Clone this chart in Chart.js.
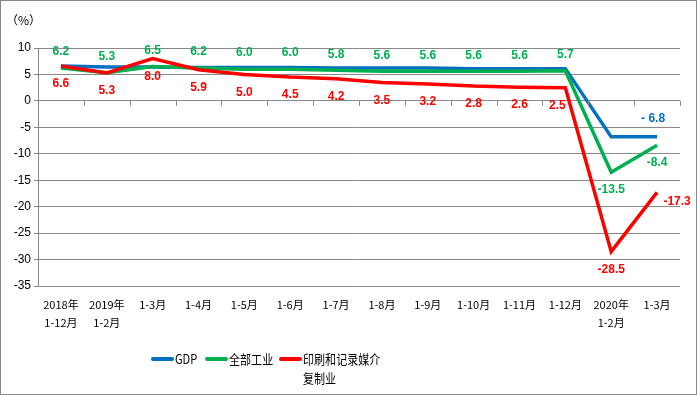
<!DOCTYPE html>
<html><head><meta charset="utf-8">
<script src="https://cdn.jsdelivr.net/npm/chart.js@4.4.1/dist/chart.umd.min.js"></script>
<style>html,body{margin:0;padding:0;background:#fff}canvas{display:block}</style>
</head><body>
<canvas id="c" width="697" height="395"></canvas>
<script>
const categories = [['2018年','1-12月'],['2019年','1-2月'],'1-3月','1-4月','1-5月','1-6月','1-7月','1-8月','1-9月','1-10月','1-11月','1-12月',['2020年','1-2月'],'1-3月'];
const seriesNames = ['GDP','全部工业','印刷和记录媒介复制业'];
const legendLines = [['GDP'],['全部工业'],['印刷和记录媒介','复制业']];
const gdp = [6.6,6.4,6.4,6.3,6.3,6.3,6.2,6.2,6.2,6.1,6.1,6.1,-6.8,-6.8];
const industry = [6.2,5.3,6.5,6.2,6.0,6.0,5.8,5.6,5.6,5.6,5.6,5.7,-13.5,-8.4];
const printing = [6.6,5.3,8.0,5.9,5.0,4.5,4.2,3.5,3.2,2.8,2.6,2.5,-28.5,-17.3];
const yTicks = {min:-35,max:10,step:5};
const unitLabel = '（%）';

const colors = ['#0070C0','#00B050','#FF0000'];
const labelCfg = [
  {13:{dx:-4,dy:-18,text:'- 6.8'}},
  Object.assign({}, ...industry.map((v,i)=>({[i]:{dx:0,dy:i>=12?17:-16}}))),
  Object.assign({}, ...printing.map((v,i)=>({[i]:{dx:i===11?-8:(i===13?20:0),dy:i===13?9:18}})))
];

const labelPlugin = {
  id:'labels',
  afterDatasetsDraw(chart){
    const ctx=chart.ctx;
    ctx.save();
    ctx.font='bold 12px "Liberation Sans", Arial, sans-serif';
    ctx.textAlign='center';ctx.textBaseline='middle';
    chart.data.datasets.forEach((ds,di)=>{
      const meta=chart.getDatasetMeta(di);
      const cfg=labelCfg[di];
      meta.data.forEach((pt,i)=>{
        const c=cfg[i]; if(!c) return;
        const t=c.text||ds.data[i].toFixed(1);
        ctx.fillStyle=colors[di];
        ctx.fillText(t,pt.x+c.dx,pt.y+c.dy);
      });
    });
    ctx.restore();
  },
  afterDraw(chart){
    const ctx=chart.ctx, xs=chart.scales.x, ys=chart.scales.y;
    ctx.save();
    const y0=ys.getPixelForValue(0);
    const n=categories.length, w=(xs.right-xs.left)/n;
    ctx.strokeStyle='#898989';ctx.lineWidth=1;
    ctx.beginPath();
    for(let k=1;k<=n;k++){const x=Math.round(xs.left+k*w)+0.5;ctx.moveTo(x,y0);ctx.lineTo(x,y0+5);}
    ctx.stroke();
    ctx.fillStyle='#000';ctx.font='12px "Noto Sans CJK SC", sans-serif';
    ctx.textAlign='left';ctx.textBaseline='middle';
    ctx.fillText(unitLabel,6,20);
    const items=[{x:153},{x:207},{x:281}];
    items.forEach((it,i)=>{
      ctx.strokeStyle=colors[i];ctx.lineWidth=4;ctx.lineCap='round';
      ctx.beginPath();ctx.moveTo(it.x,359);ctx.lineTo(it.x+19,359);ctx.stroke();
      ctx.fillStyle='#000';
      legendLines[i].forEach((s,j)=>{
        ctx.save();ctx.translate(it.x+22,359+j*19);ctx.scale(0.85,1);
        ctx.font='13px "Noto Sans CJK SC", sans-serif';
        ctx.fillText(s,0,0);ctx.restore();
      });
    });
    ctx.strokeStyle='#888';ctx.lineWidth=1;ctx.strokeRect(0.5,0.5,696,394);
    ctx.restore();
  }
};

new Chart(document.getElementById('c'),{
  type:'line',
  data:{labels:categories,datasets:[
    {label:seriesNames[0],data:gdp,borderColor:colors[0],order:2},
    {label:seriesNames[1],data:industry,borderColor:colors[1],order:1},
    {label:seriesNames[2],data:printing,borderColor:colors[2],order:0}
  ].map(d=>Object.assign(d,{borderWidth:3.5,pointRadius:0,tension:0,fill:false,borderCapStyle:'butt',borderJoinStyle:'miter'}))},
  options:{
    responsive:false,animation:false,
    layout:{padding:{top:48,right:17,left:0,bottom:0}},
    plugins:{legend:{display:false},tooltip:{enabled:false}},
    scales:{
      x:{offset:true,grid:{display:false,drawTicks:false},border:{display:false},
        ticks:{padding:9,color:'#000',font:{size:11,lineHeight:1.7,family:'"Noto Sans CJK SC", sans-serif'},maxRotation:0,autoSkip:false},
        afterFit(s){s.height=109;}},
      y:{min:yTicks.min,max:yTicks.max,
        ticks:{stepSize:yTicks.step,color:'#000',padding:3,font:{size:12,family:'"Liberation Sans", Arial, sans-serif'}},
        grid:{color:'#898989',tickLength:4,drawTicks:true},
        border:{display:true,color:'#898989'},
        afterFit(s){s.width=38;}}
    }
  },
  plugins:[labelPlugin]
});
</script>
</body></html>
